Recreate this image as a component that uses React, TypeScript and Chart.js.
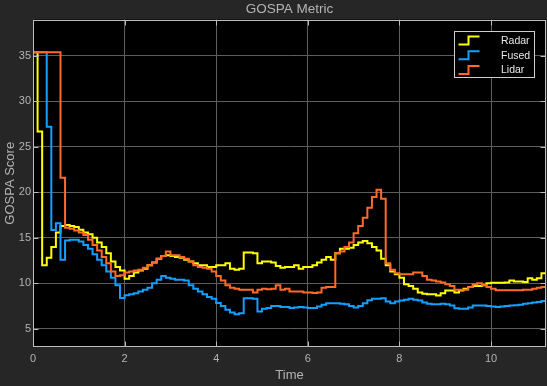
import React, { useEffect, useRef } from 'react';
import { Chart, registerables } from 'chart.js';

Chart.register(...registerables);

// ---------- data ----------
const SAMPLE_STEP = 0.1; // seconds between samples (t = 0 … 11.2)

const RADAR = [
  35.4, 26.7, 12.0, 12.8, 14.0, 15.6, 16.3, 16.4, 16.3, 16.2,
  15.9, 15.6, 15.4, 15.0, 14.5, 14.0, 13.3, 12.4, 11.8, 11.4,
  10.5, 10.8, 11.2, 11.4, 11.6, 12.0, 12.3, 12.7, 13.0, 13.1,
  13.0, 12.9, 12.8, 12.6, 12.4, 12.2, 12.0, 12.0, 11.8, 11.8,
  12.0, 12.0, 12.2, 11.6, 11.5, 11.6, 13.4, 13.4, 13.3, 12.2,
  12.4, 12.4, 12.3, 11.9, 11.7, 11.8, 11.8, 12.0, 11.6, 11.8,
  11.8, 12.0, 12.3, 12.6, 12.9, 12.6, 13.3, 13.8, 13.8, 13.9,
  14.2, 14.5, 14.65, 14.4, 14.0, 13.6, 12.7, 12.0, 11.3, 11.0,
  10.6, 9.9, 9.7, 9.4, 9.0, 8.85, 8.8, 8.8, 8.65, 8.9,
  9.2, 9.2, 9.0, 9.2, 9.4, 9.6, 9.7, 9.7, 9.8, 10.0,
  10.05, 10.05, 10.05, 10.1, 10.3, 10.2, 10.2, 10.15, 10.55, 10.4,
  10.55, 11.1, 11.1,
];

const FUSED = [
  35.4, 35.4, 35.4, 27.2, 15.85, 16.6, 12.6, 14.7, 14.8, 14.8,
  14.6, 14.2, 13.8, 13.2, 12.6, 12.0, 11.3, 10.6, 9.8, 8.4,
  8.7, 8.8, 8.9, 9.1, 9.3, 9.5, 10.0, 10.4, 10.8, 10.6,
  10.5, 10.4, 10.4, 10.3, 9.8, 9.4, 9.1, 8.8, 8.5, 8.3,
  7.85, 7.5, 7.1, 6.8, 6.6, 6.7, 8.35, 8.35, 8.3, 6.9,
  7.2, 7.3, 7.5, 7.5, 7.4, 7.4, 7.3, 7.35, 7.4, 7.35,
  7.3, 7.3, 7.45, 7.65, 7.8, 7.8, 7.8, 7.75, 7.7, 7.5,
  7.35, 7.5, 7.8, 8.15, 8.3, 8.3, 8.35, 8.0, 7.8, 8.0,
  8.1, 8.2, 8.3, 8.2, 8.1, 7.9, 7.75, 7.7, 7.7, 7.75,
  7.7, 7.55, 7.25, 7.2, 7.2, 7.35, 7.55, 7.55, 7.55, 7.5,
  7.45, 7.4, 7.45, 7.5, 7.55, 7.6, 7.65, 7.75, 7.8, 7.9,
  7.95, 8.05, 8.1,
];

const LIDAR = [
  35.4, 35.4, 35.4, 35.4, 35.4, 35.4, 21.6, 16.1, 16.0, 15.8,
  15.6, 15.3, 14.8, 14.2, 13.6, 12.9, 12.2, 11.3, 10.8, 10.9,
  11.2, 11.3, 11.4, 11.5, 11.7, 12.0, 12.3, 12.7, 13.0, 13.5,
  13.1, 13.1, 12.9, 12.7, 12.4, 12.0, 11.8, 11.7, 11.6, 11.3,
  10.8, 10.3, 9.8, 9.5, 9.4, 9.3, 9.3, 9.3, 9.0, 9.3,
  9.4, 9.35, 9.4, 9.8, 9.3, 9.4, 9.1, 9.1, 9.1, 9.0,
  9.0, 8.95, 9.0, 9.5, 9.6, 9.6, 13.3, 13.5, 14.0, 14.5,
  15.5, 16.3, 17.2, 18.3, 19.5, 20.3, 19.3, 12.2, 11.5, 11.1,
  11.0, 11.0, 11.0, 11.2, 11.2, 10.8, 10.4, 10.3, 10.2, 10.1,
  9.9, 9.7, 9.3, 9.3, 9.3, 9.6, 9.9, 10.0, 9.8, 9.6,
  9.4, 9.25, 9.25, 9.25, 9.25, 9.25, 9.25, 9.3, 9.3, 9.4,
  9.5, 9.6, 9.6,
];

const SERIES_NAMES = ['Radar', 'Fused', 'Lidar'];
const SERIES_COLORS = ['#FFFF00', '#139FFF', '#FF6929'];

const X_TICKS = [0, 2, 4, 6, 8, 10];
const Y_TICKS = [5, 10, 15, 20, 25, 30, 35];
const X_MIN = 0;
const X_MAX = 11.2;
const Y_MIN = 3;
const Y_MAX = 39;

const TITLE = 'GOSPA Metric';
const X_LABEL = 'Time';
const Y_LABEL = 'GOSPA Score';

// ---------- styling ----------
const FONT = '"Liberation Sans", Arial, Helvetica, sans-serif';
const BG = '#262626';
const PLOT_BG = '#000000';
const GRID = '#5e5e5e';
const AXIS = '#bdbdbd';
const TEXT = '#b3b3b3';
const LEGEND_TEXT = '#e6e6e6';

const toPoints = (arr: number[]) =>
  arr.map((y, i) => ({ x: Math.round(i * SAMPLE_STEP * 10) / 10, y }));

const plotBgPlugin = {
  id: 'plotBg',
  beforeDraw(chart: any) {
    const { ctx, chartArea: a } = chart;
    ctx.save();
    ctx.fillStyle = PLOT_BG;
    ctx.fillRect(a.left, a.top, a.right - a.left, a.bottom - a.top);
    ctx.restore();
  },
};

const boxPlugin = {
  id: 'axesBox',
  afterDatasetsDraw(chart: any) {
    const { ctx, chartArea: a, scales } = chart;
    const l = Math.round(a.left) + 0.5;
    const r = Math.round(a.right) - 0.5;
    const t = Math.round(a.top) + 0.5;
    const b = Math.round(a.bottom) - 0.5;
    ctx.save();
    ctx.strokeStyle = AXIS;
    ctx.lineWidth = 1;
    ctx.strokeRect(l, t, r - l, b - t);
    ctx.beginPath();
    const tl = 5;
    scales.x.ticks.forEach((tk: any) => {
      const x = Math.round(scales.x.getPixelForValue(tk.value)) + 0.5;
      ctx.moveTo(x, b); ctx.lineTo(x, b - tl);
      ctx.moveTo(x, t); ctx.lineTo(x, t + tl);
    });
    scales.y.ticks.forEach((tk: any) => {
      const y = Math.round(scales.y.getPixelForValue(tk.value)) + 0.5;
      ctx.moveTo(l, y); ctx.lineTo(l + tl, y);
      ctx.moveTo(r, y); ctx.lineTo(r - tl, y);
    });
    ctx.stroke();
    ctx.restore();
  },
};

const legendPlugin = {
  id: 'stairLegend',
  afterDraw(chart: any) {
    const { ctx, chartArea: a } = chart;
    const bw = 80;
    const bh = 46;
    const bx = Math.round(a.right - 92) + 0.5;
    const by = Math.round(a.top + 11) + 0.5;
    ctx.save();
    ctx.fillStyle = '#000000';
    ctx.fillRect(bx, by, bw, bh);
    ctx.strokeStyle = '#cfcfcf';
    ctx.lineWidth = 1;
    ctx.strokeRect(bx, by, bw, bh);
    chart.data.datasets.forEach((ds: any, i: number) => {
      const y = by + 8.5 + i * 14.8;
      ctx.strokeStyle = ds.borderColor;
      ctx.lineWidth = 2;
      ctx.lineJoin = 'miter';
      ctx.beginPath();
      ctx.moveTo(bx + 4, y + 4.5);
      ctx.lineTo(bx + 14, y + 4.5);
      ctx.lineTo(bx + 14, y - 3.5);
      ctx.lineTo(bx + 25, y - 3.5);
      ctx.stroke();
      ctx.fillStyle = LEGEND_TEXT;
      ctx.font = `10.5px ${FONT}`;
      ctx.textAlign = 'left';
      ctx.textBaseline = 'alphabetic';
      ctx.fillText(ds.label, bx + 46.5, y + 3.8);
    });
    ctx.restore();
  },
};

export default function App() {
  const canvasRef = useRef<HTMLCanvasElement | null>(null);

  useEffect(() => {
    document.body.style.margin = '0';
    document.body.style.background = BG;
    const canvas = canvasRef.current;
    if (!canvas) return;
    const seriesData = [RADAR, FUSED, LIDAR];
    const chart = new Chart(canvas, {
      type: 'line',
      data: {
        datasets: seriesData.map((arr, i) => ({
          label: SERIES_NAMES[i],
          data: toPoints(arr),
          borderColor: SERIES_COLORS[i],
          backgroundColor: SERIES_COLORS[i],
          borderWidth: 2,
          pointRadius: 0,
          pointHoverRadius: 0,
          stepped: true,
          tension: 0,
          fill: false,
          borderJoinStyle: 'miter',
          borderCapStyle: 'butt',
          order: 2 - i,
        })),
      },
      options: {
        animation: false,
        responsive: false,
        maintainAspectRatio: false,
        devicePixelRatio: 1,
        events: [],
        layout: { padding: { left: 0, right: 1, top: 0, bottom: 0 } },
        plugins: {
          legend: { display: false },
          tooltip: { enabled: false },
          title: {
            display: true,
            text: TITLE,
            color: TEXT,
            fullSize: false,
            font: { family: FONT, size: 13.5, weight: 'normal', lineHeight: 1.15 },
            padding: { top: 2, bottom: 2 },
          },
        },
        scales: {
          x: {
            type: 'linear',
            min: X_MIN,
            max: X_MAX,
            afterBuildTicks: (scale: any) => {
              scale.ticks = X_TICKS.map((v) => ({ value: v }));
            },
            afterFit: (scale: any) => {
              scale.height = 39;
            },
            grid: { color: GRID, lineWidth: 1, drawTicks: false },
            border: { display: false },
            ticks: {
              color: TEXT,
              font: { family: FONT, size: 11 },
              padding: 5,
              maxRotation: 0,
              autoSkip: false,
              callback: (v: any) => String(v),
            },
            title: {
              display: true,
              text: X_LABEL,
              color: TEXT,
              font: { family: FONT, size: 13 },
              padding: { top: 0, bottom: 3 },
            },
          },
          y: {
            type: 'linear',
            min: Y_MIN,
            max: Y_MAX,
            afterBuildTicks: (scale: any) => {
              scale.ticks = Y_TICKS.map((v) => ({ value: v }));
            },
            afterFit: (scale: any) => {
              scale.width = 33;
            },
            grid: { color: GRID, lineWidth: 1, drawTicks: false },
            border: { display: false },
            ticks: {
              color: TEXT,
              font: { family: FONT, size: 11 },
              padding: 2,
              autoSkip: false,
              callback: (v: any) => String(v),
            },
            title: {
              display: true,
              text: Y_LABEL,
              color: TEXT,
              font: { family: FONT, size: 13 },
              padding: { top: 3, bottom: 0 },
            },
          },
        },
      } as any,
      plugins: [plotBgPlugin, boxPlugin, legendPlugin],
    });
    return () => chart.destroy();
  }, []);

  return (
    <div
      style={{
        position: 'fixed',
        left: 0,
        top: 0,
        width: 547,
        height: 386,
        background: BG,
      }}
    >
      <canvas
        ref={canvasRef}
        width={547}
        height={386}
        style={{ display: 'block', width: 547, height: 386 }}
      />
    </div>
  );
}
